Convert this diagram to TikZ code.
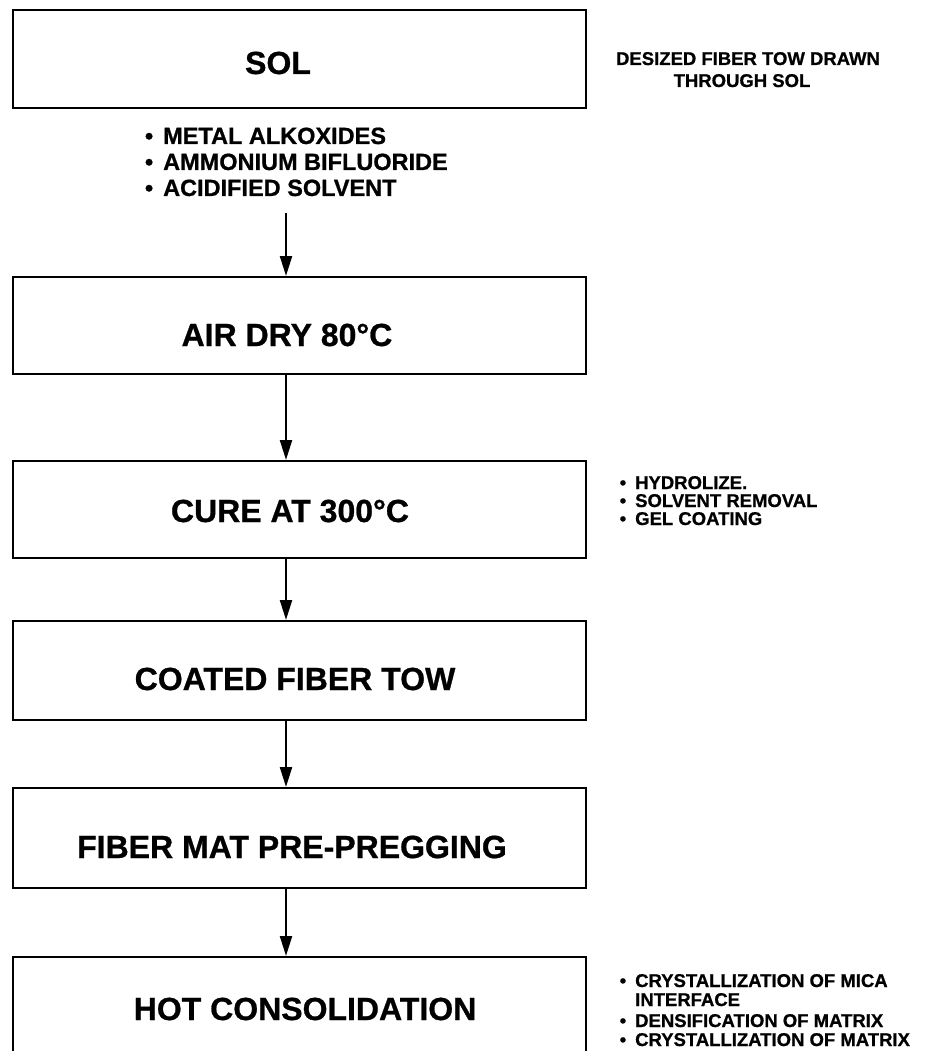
\documentclass[tikz,border=0pt]{standalone}
\usepackage{fontspec}
\setmainfont{Liberation Sans}[BoldFeatures={FakeBold=0.8}]
\usetikzlibrary{arrows.meta}
\begin{document}
\begin{tikzpicture}[x=1pt,y=-1pt,
  box/.style={draw, line width=2.4pt, minimum width=573pt, inner sep=0pt, anchor=north west},
  ttl/.style={font=\fontsize{32}{38}\selectfont\bfseries, inner sep=0pt, anchor=base},
  big/.style={font=\fontsize{23.5}{28}\selectfont\bfseries, inner sep=0pt, anchor=base west},
  sml/.style={font=\fontsize{18.5}{22}\selectfont\bfseries, inner sep=0pt, anchor=base west},
  smc/.style={font=\fontsize{18.5}{22}\selectfont\bfseries, inner sep=0pt, anchor=base},
  arr/.style={line width=2.2pt, -{Triangle[length=20pt,width=12pt]}}]
\fill[white] (0,0) rectangle (925,1051);
\useasboundingbox (0,0) rectangle (925,1051);
\clip (0,0) rectangle (925,1051);
% boxes
\node[box, minimum height=98pt] (sol) at (12,9) {};
\node[box, minimum height=97pt] (air) at (12,276) {};
\node[box, minimum height=97pt] (cure) at (12,460) {};
\node[box, minimum height=99pt] (coat) at (12,620) {};
\node[box, minimum height=100pt] (mat) at (12,787) {};
\node[box, minimum height=130pt] (hot) at (12,956) {};
% titles
\node[ttl] (tsol) at (278,74) {SOL};
\node[ttl] (tair) at (287,346) {AIR DRY 80°C};
\node[ttl] (tcure) at (290,522) {CURE AT 300°C};
\node[ttl] (tcoat) at (295,690) {COATED FIBER TOW};
\node[ttl] (tmat) at (292,858) {FIBER MAT PRE-PREGGING};
\node[ttl] (thot) at (305,1020) {HOT CONSOLIDATION};
% left bullets
\node[big] (b1) at (163,144) {\llap{\textbullet\hspace{10pt}}METAL ALKOXIDES};
\node[big] (b2) at (163,170) {\llap{\textbullet\hspace{10pt}}AMMONIUM BIFLUORIDE};
\node[big] (b3) at (163,196) {\llap{\textbullet\hspace{10pt}}ACIDIFIED SOLVENT};
% right notes
\node[smc] (d1) at (748,65) {DESIZED FIBER TOW DRAWN};
\node[smc] (d2) at (742,87) {THROUGH SOL};
\node[sml] (c1) at (635,489) {\llap{\textbullet\hspace{9pt}}HYDROLIZE.};
\node[sml] (c2) at (635,507) {\llap{\textbullet\hspace{9pt}}SOLVENT REMOVAL};
\node[sml] (c3) at (635,525) {\llap{\textbullet\hspace{9pt}}GEL COATING};
\node[sml] (h1) at (635,987) {\llap{\textbullet\hspace{9pt}}CRYSTALLIZATION OF MICA};
\node[sml] (h2) at (635,1006) {INTERFACE};
\node[sml] (h3) at (635,1027) {\llap{\textbullet\hspace{9pt}}DENSIFICATION OF MATRIX};
\node[sml] (h4) at (635,1046) {\llap{\textbullet\hspace{9pt}}CRYSTALLIZATION OF MATRIX};
% arrows
\coordinate (a0) at (286,213);
\draw[arr] (a0) -- (a0 |- air.north);
\draw[arr] (air.south -| a0) -- (cure.north -| a0);
\draw[arr] (cure.south -| a0) -- (coat.north -| a0);
\draw[arr] (coat.south -| a0) -- (mat.north -| a0);
\draw[arr] (mat.south -| a0) -- (hot.north -| a0);
\end{tikzpicture}
\end{document}
